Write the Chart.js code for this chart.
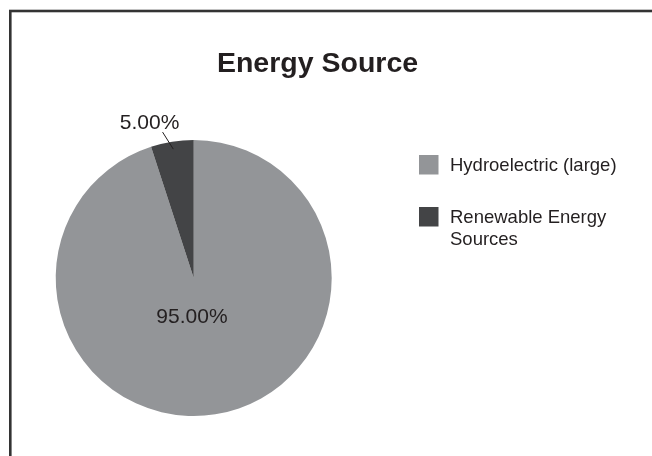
<!DOCTYPE html>
<html>
<head>
<meta charset="utf-8">
<script src="https://cdn.jsdelivr.net/npm/chart.js@4"></script>
<style>
  html, body { margin: 0; padding: 0; background: #fff; overflow: hidden; }
  #wrap { position: relative; width: 652px; height: 456px; }
  canvas { display: block; }
</style>
</head>
<body>
<div id="wrap"><canvas id="c" width="652" height="456"></canvas></div>
<script>
const titleText = "Energy Source";
const categories = ["Hydroelectric (large)", "Renewable Energy Sources"];
const legendLines = [["Hydroelectric (large)"], ["Renewable Energy", "Sources"]];
const values = [95, 5];
const colors = ["#939598", "#434446"];
const textColor = "#231f20";
const FONT = "'Liberation Sans', Arial, Helvetica, sans-serif";

const decor = {
  id: "decor",
  beforeDraw(chart) {
    const ctx = chart.ctx;
    ctx.save();
    ctx.fillStyle = "#fff";
    ctx.fillRect(0, 0, chart.width, chart.height);
    ctx.strokeStyle = "#333333";
    ctx.lineWidth = 2.6;
    ctx.strokeRect(10.3, 11.0, 700, 500);
    ctx.restore();
  },
  afterDraw(chart) {
    const ctx = chart.ctx;
    ctx.save();
    // Title
    ctx.fillStyle = textColor;
    ctx.font = "bold 28.5px " + FONT;
    ctx.textAlign = "center";
    ctx.textBaseline = "alphabetic";
    ctx.fillText(titleText, 317.5, 72);

    // Data labels
    const meta = chart.getDatasetMeta(0);
    const total = values.reduce((a, b) => a + b, 0);
    ctx.font = "21px " + FONT;
    meta.data.forEach((arc, i) => {
      const p = arc.getProps(["x", "y", "startAngle", "endAngle", "outerRadius"], true);
      const mid = (p.startAngle + p.endAngle) / 2;
      const label = (values[i] / total * 100).toFixed(2) + "%";
      if (values[i] / total > 0.15) {
        const d = p.outerRadius * 0.29;
        ctx.textAlign = "center";
        ctx.textBaseline = "middle";
        ctx.fillText(label, p.x + Math.cos(mid) * d - 8, p.y + Math.sin(mid) * d);
      } else {
        const r0 = p.outerRadius - 7.5;
        const sx = p.x + Math.cos(mid) * r0;
        const sy = p.y + Math.sin(mid) * r0;
        const ex = sx - 10.7, ey = sy - 17;
        ctx.strokeStyle = "#231f20";
        ctx.lineWidth = 1;
        ctx.beginPath();
        ctx.moveTo(sx, sy);
        ctx.lineTo(ex, ey);
        ctx.stroke();
        ctx.textAlign = "center";
        ctx.textBaseline = "alphabetic";
        ctx.fillText(label, ex - 13, ey - 3);
      }
    });

    // Legend
    const boxX = 419, boxS = 19.5, textX = 450;
    const boxYs = [155, 207];
    ctx.font = "18.5px " + FONT;
    ctx.textAlign = "left";
    ctx.textBaseline = "middle";
    categories.forEach((c, i) => {
      ctx.fillStyle = colors[i];
      ctx.fillRect(boxX, boxYs[i], boxS, boxS);
      ctx.fillStyle = textColor;
      legendLines[i].forEach((ln, j) => {
        ctx.fillText(ln, textX, boxYs[i] + 11 + j * 22);
      });
    });
    ctx.restore();
  }
};

new Chart(document.getElementById("c"), {
  type: "pie",
  data: {
    labels: categories,
    datasets: [{
      data: values,
      backgroundColor: colors,
      borderWidth: 0,
      hoverOffset: 0
    }]
  },
  options: {
    responsive: false,
    animation: false,
    devicePixelRatio: 1,
    layout: { padding: { left: 55.7, top: 140, right: 320.3, bottom: 40 } },
    plugins: {
      legend: { display: false },
      title: { display: false },
      tooltip: { enabled: false }
    }
  },
  plugins: [decor]
});
</script>
</body>
</html>
